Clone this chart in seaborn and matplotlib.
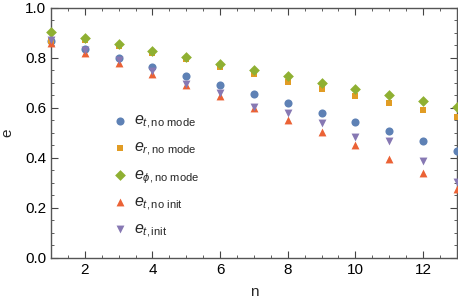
import numpy as np
import pandas as pd
import seaborn as sns
import matplotlib.pyplot as plt
from matplotlib.ticker import MultipleLocator

# values
n = list(range(1, 14))
e_t_no_mode = [0.869, 0.835, 0.799, 0.765, 0.729, 0.692, 0.656, 0.619, 0.581, 0.544, 0.507, 0.468, 0.428]
e_r_no_mode = [0.866, 0.873, 0.848, 0.820, 0.795, 0.765, 0.736, 0.705, 0.676, 0.648, 0.619, 0.590, 0.564]
e_phi_no_mode = [0.905, 0.879, 0.856, 0.829, 0.803, 0.776, 0.752, 0.728, 0.700, 0.676, 0.652, 0.627, 0.605]
e_t_no_init = [0.859, 0.821, 0.779, 0.736, 0.690, 0.649, 0.600, 0.552, 0.504, 0.452, 0.396, 0.339, 0.275]
e_t_init = [0.870, 0.830, 0.790, 0.749, 0.697, 0.661, 0.605, 0.581, 0.539, 0.483, 0.468, 0.389, 0.303]

labels = [r"$e_{t,\mathrm{no\ mode}}$", r"$e_{r,\mathrm{no\ mode}}$", r"$e_{\phi,\mathrm{no\ mode}}$",
          r"$e_{t,\mathrm{no\ init}}$", r"$e_{t,\mathrm{init}}$"]
colors = ["#5E81B5", "#E19C24", "#8FB032", "#EB6235", "#8778B3"]
markers = ["o", "s", "D", "^", "v"]
sizes = [34, 22, 30, 32, 32]

sns.set_style("ticks")
plt.rcParams["font.family"] = ["Liberation Sans", "DejaVu Sans"]
plt.rcParams["mathtext.fontset"] = "custom"
plt.rcParams["mathtext.rm"] = "Liberation Sans"
plt.rcParams["mathtext.it"] = "Liberation Sans:italic"

series = [e_t_no_mode, e_r_no_mode, e_phi_no_mode, e_t_no_init, e_t_init]

fig = plt.figure(figsize=(4.58, 3.06), dpi=100)
ax = fig.add_axes([0.1114, 0.157, 0.886, 0.817])

# one call per series so each marker can get its own size
for vals, lab, col, mk, sz in zip(series, labels, colors, markers, sizes):
    d = pd.DataFrame({"n": n, "e": vals})
    sns.scatterplot(data=d, x="n", y="e", color=col, marker=mk, s=sz, linewidth=0,
                    label=lab, ax=ax, clip_on=False, zorder=3)

ax.grid(False)
ax.set_xlim(1, 13)
ax.set_ylim(0, 1)
ax.xaxis.set_major_locator(MultipleLocator(2))
ax.xaxis.set_minor_locator(MultipleLocator(0.5))
ax.yaxis.set_minor_locator(MultipleLocator(0.05))
ax.set_yticks([0, 0.2, 0.4, 0.6, 0.8, 1.0])
ax.set_yticklabels(["0.0", "0.2", "0.4", "0.6", "0.8", "1.0"])
ax.tick_params(which="both", direction="in", top=True, right=True, colors="#444444",
               labelcolor="black", labelsize=11)
ax.tick_params(which="major", length=5, width=0.8)
ax.tick_params(which="minor", length=2.5, width=0.6)
for sp in ax.spines.values():
    sp.set_color("#555555")
    sp.set_linewidth(1.0)

ax.set_xlabel("n", fontsize=11, labelpad=6)
ax.set_ylabel("e", fontsize=11, labelpad=8)

leg = ax.legend(loc="upper left", bbox_to_anchor=(0.115, 0.637), frameon=False,
                fontsize=11.5, handlelength=1.0, handletextpad=0.35, labelspacing=0.55)

fig.savefig("out.png", dpi=100)
